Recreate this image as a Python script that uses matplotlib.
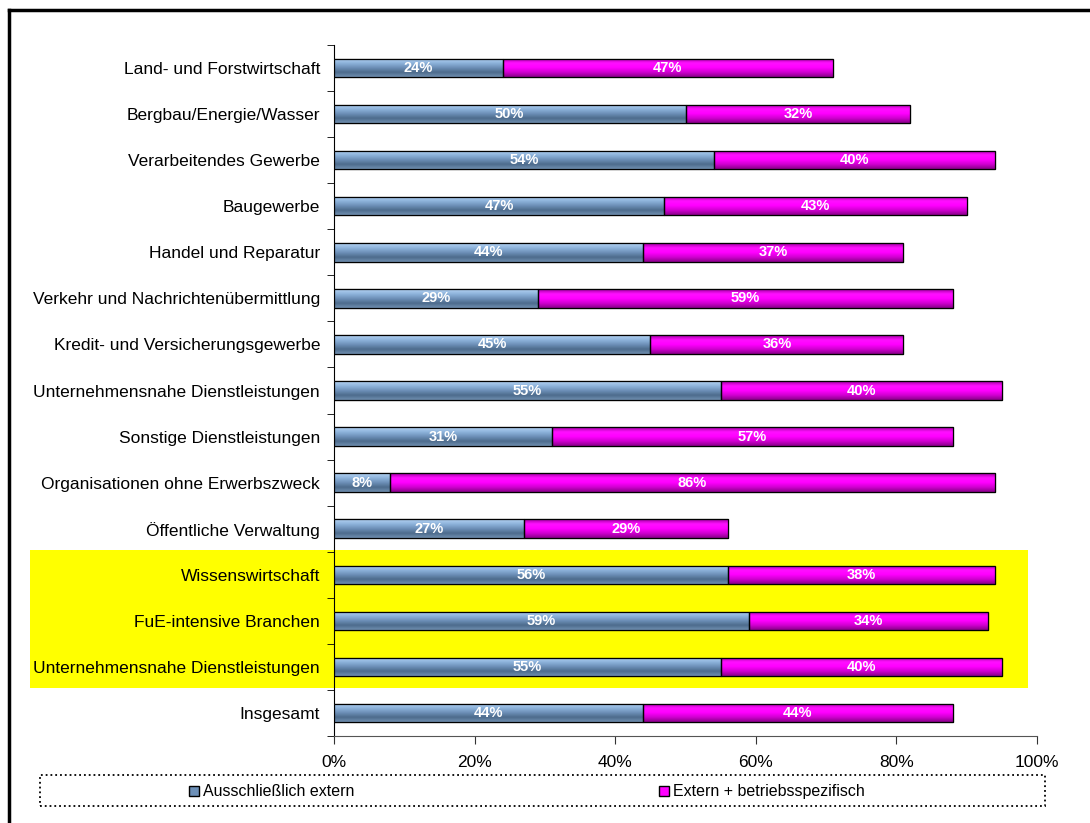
import numpy as np
import matplotlib
matplotlib.use("Agg")
import matplotlib.pyplot as plt
from matplotlib.patches import Rectangle
from matplotlib.lines import Line2D
from matplotlib.colors import LinearSegmentedColormap
import matplotlib.transforms as mtransforms

plt.rcParams['font.family'] = ['Liberation Sans', 'DejaVu Sans']

# data
categories = ["Land- und Forstwirtschaft", "Bergbau/Energie/Wasser", "Verarbeitendes Gewerbe",
              "Baugewerbe", "Handel und Reparatur", "Verkehr und Nachrichtenübermittlung",
              "Kredit- und Versicherungsgewerbe", "Unternehmensnahe Dienstleistungen",
              "Sonstige Dienstleistungen", "Organisationen ohne Erwerbszweck",
              "Öffentliche Verwaltung", "Wissenswirtschaft", "FuE-intensive Branchen",
              "Unternehmensnahe Dienstleistungen", "Insgesamt"]
extern = [24, 50, 54, 47, 44, 29, 45, 55, 31, 8, 27, 56, 59, 55, 44]
betrieb = [47, 32, 40, 43, 37, 59, 36, 40, 57, 86, 29, 38, 34, 40, 44]
series_names = ["Ausschließlich extern", "Extern + betriebsspezifisch"]
highlight = [11, 12, 13]

blue_cmap = LinearSegmentedColormap.from_list("b", ["#b4d2f2", "#8fb4dc", "#6d90b8", "#4d6b8c", "#6f8fb0"])
mag_cmap = LinearSegmentedColormap.from_list("m", ["#a000a0", "#ff10ff", "#ff00ff", "#d000d0", "#8a008a"])

fig = plt.figure(figsize=(10.9, 8.23), dpi=100)
ax = fig.add_axes([0.3064, 0.1057, 0.645, 0.8396])

y = np.arange(len(categories))
h = 0.4
grad = np.linspace(0, 1, 64).reshape(-1, 1)

def gradient_bar(bar, cmap):
    x0, y0 = bar.get_x(), bar.get_y()
    w, hh = bar.get_width(), bar.get_height()
    im = ax.imshow(grad, cmap=cmap, aspect='auto', extent=(x0, x0 + w, y0 + hh, y0),
                   zorder=3, interpolation='bilinear')
    im.set_clip_path(bar)

bars1 = ax.barh(y, extern, height=h, color="#7fa6cf", edgecolor="black", linewidth=0.8, zorder=3)
bars2 = ax.barh(y, betrieb, left=extern, height=h, color="#ff00ff", edgecolor="black", linewidth=0.8, zorder=3)
for b in bars1:
    gradient_bar(b, blue_cmap)
for b in bars2:
    gradient_bar(b, mag_cmap)
# redraw outlines on top
for b in list(bars1) + list(bars2):
    ax.add_patch(Rectangle((b.get_x(), b.get_y()), b.get_width(), b.get_height(),
                           fill=False, edgecolor="black", linewidth=0.9, zorder=4))

for i in range(len(categories)):
    ax.text(extern[i] / 2, y[i], f"{extern[i]}%", ha="center", va="center",
            color="white", fontsize=10.5, fontweight="bold", zorder=5)
    ax.text(extern[i] + betrieb[i] / 2, y[i], f"{betrieb[i]}%", ha="center", va="center",
            color="white", fontsize=10.5, fontweight="bold", zorder=5)

# yellow highlight
trans = mtransforms.blended_transform_factory(ax.transAxes, ax.transData)
ax.add_patch(Rectangle((-0.432, highlight[0] - 0.54), 1.419, len(highlight), transform=trans,
                       facecolor="#ffff00", edgecolor="none", zorder=0, clip_on=False))

ax.set_xlim(0, 100)
ax.set_ylim(len(categories) - 0.5, -0.5)
ax.set_yticks(y)
ax.set_yticklabels(categories, fontsize=12.5)
ax.set_yticks(np.arange(len(categories) + 1) - 0.5, minor=True)
ax.tick_params(axis="y", which="major", length=0, pad=10)
ax.tick_params(axis="y", which="minor", length=5, color="black")
ax.set_xticks(np.arange(0, 101, 20))
ax.set_xticklabels([f"{v}%" for v in range(0, 101, 20)], fontsize=12.5)
ax.tick_params(axis="x", length=6, pad=8, color="#333333")
ax.spines["top"].set_visible(False)
ax.spines["right"].set_visible(False)
ax.spines["left"].set_color("black")
ax.spines["bottom"].set_color("#555555")
ax.patch.set_alpha(0)

# legend: dotted box, square markers and labels on a common baseline
W, H = 1090, 823
fig.add_artist(Rectangle((40 / W, 1 - 806 / H), 1005 / W, 31 / H, transform=fig.transFigure,
                         fill=False, edgecolor="black", linestyle=":", linewidth=1.3))
for color, name, x0 in zip(["#6d90b8", "#ff00ff"], series_names, [189, 659]):
    fig.add_artist(Rectangle((x0 / W, 1 - 796 / H), 10 / W, 10 / H, transform=fig.transFigure,
                             facecolor=color, edgecolor="black", linewidth=1))
    fig.text((x0 + 14) / W, 1 - 796 / H, name, fontsize=11.5, va="baseline", ha="left")

# outer border (top and left)
fig.add_artist(Line2D([9 / W, 9 / W], [0, 1 - 10 / H], color="black", linewidth=2.5))
fig.add_artist(Line2D([9 / W, 1], [1 - 10 / H, 1 - 10 / H], color="black", linewidth=2.5))

fig.savefig("out.png", dpi=100)
